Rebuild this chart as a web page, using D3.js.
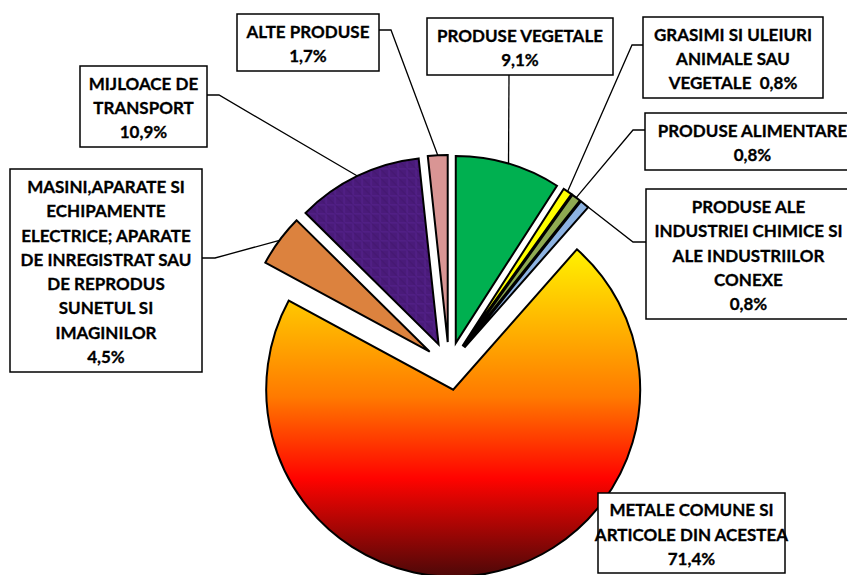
<!DOCTYPE html>
<html>
<head>
<meta charset="utf-8">
<script src="https://cdn.jsdelivr.net/npm/d3@7/dist/d3.min.js"></script>
<style>
  html, body { margin: 0; padding: 0; background: #fff; }
  svg text { font-family: Lato, "Open Sans", sans-serif; font-weight: bold; white-space: pre; }
</style>
</head>
<body>
<div id="chart"></div>
<script>
// data, in drawing order (clockwise from 12 o'clock)
var categories = [
    "PRODUSE VEGETALE",
    "GRASIMI SI ULEIURI ANIMALE SAU VEGETALE",
    "PRODUSE ALIMENTARE",
    "PRODUSE ALE INDUSTRIEI CHIMICE SI ALE INDUSTRIILOR CONEXE",
    "METALE COMUNE SI ARTICOLE DIN ACESTEA",
    "MASINI,APARATE SI ECHIPAMENTE ELECTRICE; APARATE DE INREGISTRAT SAU DE REPRODUS SUNETUL SI IMAGINILOR",
    "MIJLOACE DE TRANSPORT",
    "ALTE PRODUSE"
];
var values = [9.1, 0.8, 0.8, 0.8, 71.4, 4.5, 10.9, 1.7];

// how each label wraps; {v} is the value
var labelLines = [
    ["PRODUSE VEGETALE", "{v}"],
    ["GRASIMI SI ULEIURI", "ANIMALE SAU", "VEGETALE  {v}"],
    ["PRODUSE ALIMENTARE", "{v}"],
    ["PRODUSE ALE", "INDUSTRIEI CHIMICE SI", "ALE INDUSTRIILOR", "CONEXE", "{v}"],
    ["METALE COMUNE SI", "ARTICOLE DIN ACESTEA", "{v}"],
    ["MASINI,APARATE SI", "ECHIPAMENTE", "ELECTRICE; APARATE", "DE INREGISTRAT SAU", "DE REPRODUS", "SUNETUL SI", "IMAGINILOR", "{v}"],
    ["MIJLOACE DE", "TRANSPORT", "{v}"],
    ["ALTE PRODUSE", "{v}"]
];

var colors = ["#00b050", "#ffff00", "#8faa52", "#8db3e2", "url(#fire)", "#dc823e", "url(#mesh)", "#d99594"];

// label box layout
var boxes = [
    {x: 427, y: 18, w: 186, h: 57, lead: [[509, 75]]},
    {x: 643, y: 17, w: 180, h: 81, lead: [[643, 45], [632, 45]]},
    {x: 645, y: 113, w: 215, h: 57, lead: [[645, 130], [633, 130]]},
    {x: 646, y: 189, w: 205, h: 130, lead: [[646, 242], [633, 242]]},
    {x: 598, y: 493, w: 187, h: 80, lead: null},
    {x: 10, y: 169, w: 192, h: 203, lead: [[202, 258], [215, 258]]},
    {x: 80, y: 66, w: 127, h: 81, lead: [[207, 95], [219, 95]]},
    {x: 237, y: 14, w: 142, h: 57, lead: [[379, 30], [391, 30]]}
];

var width = 847, height = 575;
var cx = 449, cy = 366, radius = 187, explode = 24, lineHeight = 24.3;

var fmt = function (v) { return d3.format(".1f")(v).replace(".", ",") + "%"; };

var svg = d3.select("#chart").append("svg")
    .attr("width", width)
    .attr("height", height);

var defs = svg.append("defs");
var fire = defs.append("linearGradient")
    .attr("id", "fire")
    .attr("x1", 0).attr("y1", 0).attr("x2", 0).attr("y2", 1);
[[0, "#fff200"], [0.45, "#ff7a00"], [0.7, "#ff0300"], [1, "#4d0808"]].forEach(function (s) {
    fire.append("stop").attr("offset", s[0]).attr("stop-color", s[1]);
});

var mesh = defs.append("pattern")
    .attr("id", "mesh")
    .attr("patternUnits", "userSpaceOnUse")
    .attr("width", 9).attr("height", 9);
mesh.append("rect").attr("width", 9).attr("height", 9).attr("fill", "#4a1b7a");
mesh.append("path").attr("d", "M0,4.5H9M4.5,0V9")
    .attr("stroke", "#5a2594").attr("stroke-width", 1.2).attr("opacity", 0.7);
mesh.append("path").attr("d", "M0,0L9,9")
    .attr("stroke", "#3a1262").attr("stroke-width", 1).attr("opacity", 0.6);

var pie = d3.pie().sort(null).value(function (d) { return d; });
var arcs = pie(values);
var arc = d3.arc().innerRadius(0).outerRadius(radius);

var offset = function (a) {
    var mid = (a.startAngle + a.endAngle) / 2;
    return [cx + Math.sin(mid) * explode, cy - Math.cos(mid) * explode];
};

var slices = svg.append("g").selectAll(".slice")
    .data(arcs)
    .enter()
    .append("path")
    .attr("class", "slice")
    .attr("transform", function (a) { return "translate(" + offset(a) + ")"; })
    .attr("d", arc)
    .attr("fill", function (a, i) { return colors[i]; })
    .attr("stroke", "#000")
    .attr("stroke-width", 2)
    .attr("stroke-linejoin", "miter");

// leader lines to the middle of each outer arc
var leaders = svg.append("g");
arcs.forEach(function (a, i) {
    var b = boxes[i];
    if (!b.lead) return;
    var o = offset(a);
    var mid = (a.startAngle + a.endAngle) / 2;
    var end = [o[0] + Math.sin(mid) * radius, o[1] - Math.cos(mid) * radius];
    leaders.append("path")
        .attr("d", d3.line()(b.lead.concat([end])))
        .attr("fill", "none")
        .attr("stroke", "#000")
        .attr("stroke-width", 1.3);
});

var labels = svg.append("g").selectAll(".label")
    .data(arcs)
    .enter()
    .append("g")
    .attr("class", "label");

labels.append("rect")
    .attr("x", function (a, i) { return boxes[i].x; })
    .attr("y", function (a, i) { return boxes[i].y; })
    .attr("width", function (a, i) { return boxes[i].w; })
    .attr("height", function (a, i) { return boxes[i].h; })
    .attr("fill", "#fff")
    .attr("stroke", "#000")
    .attr("stroke-width", 1.5);

labels.each(function (a, i) {
    var b = boxes[i];
    var lines = labelLines[i];
    var top = b.y + b.h / 2 - (lines.length - 1) * lineHeight / 2 + 1;
    d3.select(this).selectAll("text")
        .data(lines)
        .enter()
        .append("text")
        .attr("x", b.x + b.w / 2)
        .attr("y", function (l, k) { return top + k * lineHeight; })
        .attr("text-anchor", "middle")
        .attr("dominant-baseline", "central")
        .style("font-size", "17px")
        .attr("fill", "#000")
        .attr("stroke", "#000")
        .attr("stroke-width", 0.3)
        .text(function (l) { return l.replace("{v}", fmt(values[i])); });
});
</script>
</body>
</html>
